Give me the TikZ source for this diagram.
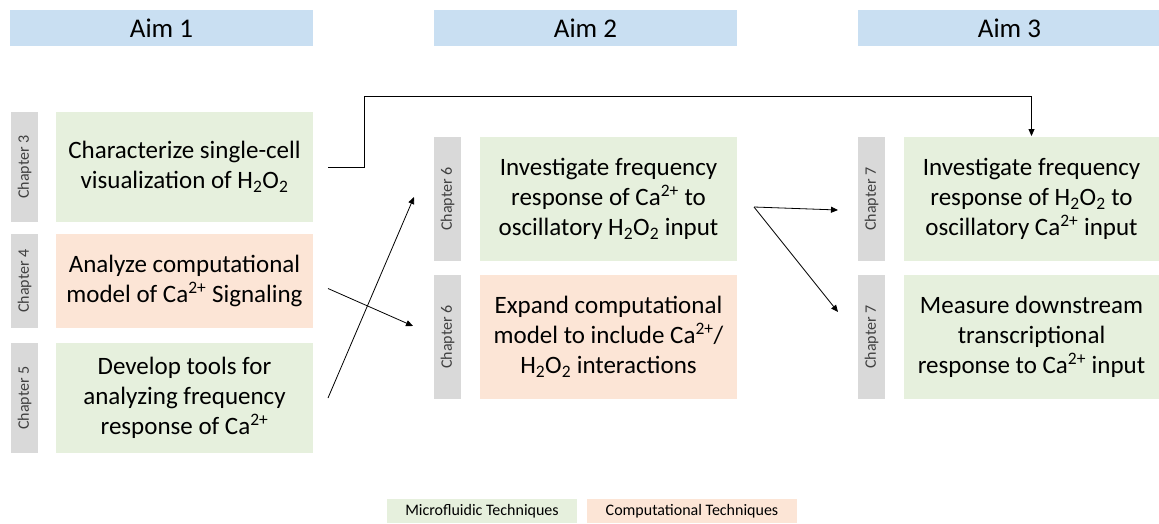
\documentclass[tikz,border=0pt]{standalone}
\usepackage{fontspec}
\setmainfont{Carlito}
\usetikzlibrary{arrows.meta}
\definecolor{aimblue}{HTML}{C9DFF2}
\definecolor{mgreen}{HTML}{E6F0DD}
\definecolor{corange}{HTML}{FCE5D6}
\definecolor{tabgray}{HTML}{D9D9D9}
\definecolor{tabtext}{HTML}{404040}
\newcommand{\HHOO}{H\textsubscript{2}O\textsubscript{2}}
\newcommand{\Caa}{Ca\textsuperscript{2+}}
\tikzset{
  aimbox/.style={fill=aimblue, minimum width=303pt, minimum height=36pt, anchor=north west, inner sep=0pt, outer sep=0pt, font=\fontsize{27}{30}\selectfont},
  tabbox/.style={fill=tabgray, minimum width=27pt, anchor=north west, inner sep=0pt, outer sep=0pt},
  tablabel/.style={rotate=90, text=tabtext, font=\fontsize{16}{18}\selectfont},
  taskbox/.style={minimum width=257pt, anchor=north west, inner sep=0pt, outer sep=0pt, align=center, font=\fontsize{25}{30}\selectfont},
  greenbox/.style={taskbox, fill=mgreen},
  orangebox/.style={taskbox, fill=corange},
  legbox/.style={anchor=north west, inner sep=0pt, outer sep=0pt, minimum height=24pt, font=\fontsize{16}{18}\selectfont},
  arr/.style={-{Triangle[length=7pt,width=6pt]}, line width=0.8pt}
}
\begin{document}
\begin{tikzpicture}[x=1pt,y=-1pt]
\useasboundingbox (0,0) rectangle (1159,523);
% Aims
\node[aimbox] (aim1) at (10,10) {Aim 1};
\node[aimbox] (aim2) at (434,10) {Aim 2};
\node[aimbox] (aim3) at (858,10) {Aim 3};
% Aim 1 column
\node[tabbox, minimum height=110pt] (t3) at (11,112) {};
\node[tablabel] at (t3.center) {Chapter 3};
\node[greenbox, minimum height=110pt] (c3) at (56,112) {Characterize single-cell\\visualization of \HHOO};
\node[tabbox, minimum height=94pt] (t4) at (11,234) {};
\node[tablabel] at (t4.center) {Chapter 4};
\node[orangebox, minimum height=94pt] (c4) at (56,234) {Analyze computational\\model of \Caa{} Signaling};
\node[tabbox, minimum height=110pt] (t5) at (11,343) {};
\node[tablabel] at (t5.center) {Chapter 5};
\node[greenbox, minimum height=110pt] (c5) at (56,343) {Develop tools for\\analyzing frequency\\response of \Caa};
% Aim 2 column
\node[tabbox, minimum height=124pt] (t6a) at (434,137) {};
\node[tablabel] at (t6a.center) {Chapter 6};
\node[greenbox, minimum height=124pt] (c6a) at (480,137) {Investigate frequency\\response of \Caa{} to\\oscillatory \HHOO{} input};
\node[tabbox, minimum height=124pt] (t6b) at (434,275) {};
\node[tablabel] at (t6b.center) {Chapter 6};
\node[orangebox, minimum height=124pt] (c6b) at (480,275) {Expand computational\\model to include \Caa/\\\HHOO{} interactions};
% Aim 3 column
\node[tabbox, minimum height=124pt] (t7a) at (858,137) {};
\node[tablabel] at (t7a.center) {Chapter 7};
\node[greenbox, minimum width=255pt, minimum height=124pt] (c7a) at (904,137) {Investigate frequency\\response of \HHOO{} to\\oscillatory \Caa{} input};
\node[tabbox, minimum height=124pt] (t7b) at (858,275) {};
\node[tablabel] at (t7b.center) {Chapter 7};
\node[greenbox, minimum width=255pt, minimum height=124pt] (c7b) at (904,275) {Measure downstream\\transcriptional\\response to \Caa{} input};
% Legend
\node[legbox, fill=mgreen, minimum width=190pt] (lg) at (387,499) {Microfluidic Techniques};
\node[legbox, fill=corange, minimum width=210pt] (lo) at (587,499) {Computational Techniques};
% Connectors
\draw[arr] ([xshift=15pt]c3.east) -- ++(36,0) |- ([yshift=41pt]c7a.north) -- ([yshift=1pt]c7a.north);
\draw[arr] ([xshift=15pt,yshift=-7.5pt]c4.east) -- ([xshift=-21pt,yshift=11pt]t6b.west);
\draw[arr] ([xshift=15pt]c5.east) -- ([xshift=-20pt,yshift=2pt]t6a.west);
\draw[arr] ([xshift=17pt,yshift=-8pt]c6a.east) -- ([xshift=-20pt,yshift=-11pt]t7a.west);
\draw[arr] ([xshift=17pt,yshift=-8pt]c6a.east) -- ([xshift=-20pt,yshift=25pt]t7b.west);
\end{tikzpicture}
\end{document}
